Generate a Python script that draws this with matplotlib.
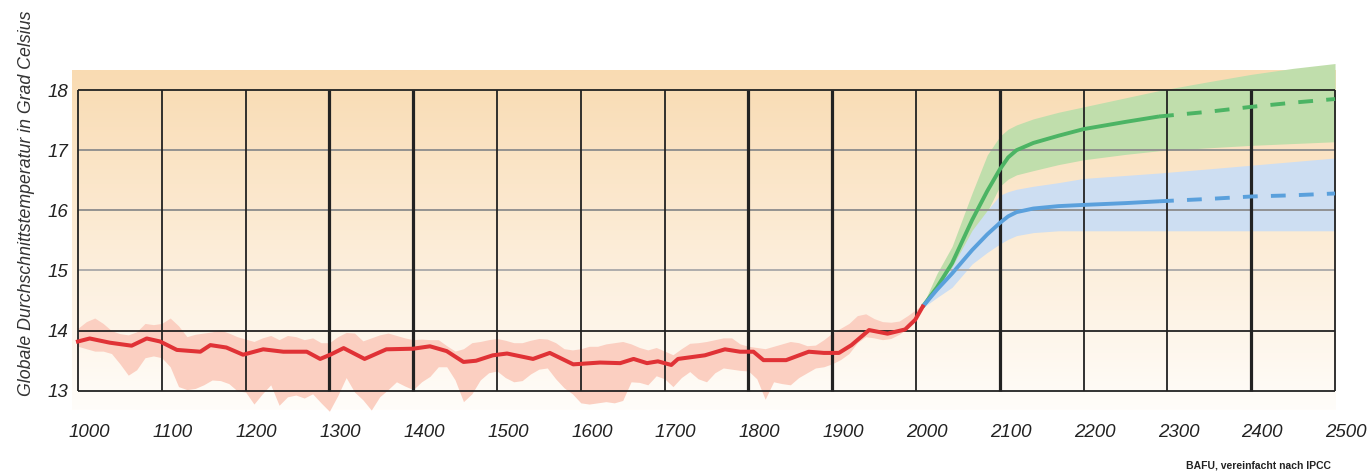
import matplotlib.pyplot as plt
import numpy as np
from matplotlib import font_manager
from matplotlib.transforms import ScaledTranslation

# the reference uses a narrow italic sans; take the first family that has an italic face
_fonts = font_manager.fontManager.ttflist
_italic = {f.name for f in _fonts if f.style in ("italic", "oblique")}
_cands = ["Liberation Sans Narrow", "Liberation Sans", "Roboto", "Lato", "Open Sans", "Noto Sans"]
FONT_NAME = next((n for n in _cands if n in _italic), "DejaVu Sans")
FONT = [FONT_NAME, "DejaVu Sans"]
if FONT_NAME == "Liberation Sans Narrow":
    XT_SIZE, YT_SIZE, YL_SIZE, SRC_SIZE = 16, 15, 14, 9
elif FONT_NAME == "DejaVu Sans":
    XT_SIZE, YT_SIZE, YL_SIZE, SRC_SIZE = 12.5, 12.5, 11, 7
else:
    XT_SIZE, YT_SIZE, YL_SIZE, SRC_SIZE = 13.5, 13.5, 12.8, 7.5

# reconstructed global mean temperature, 1000-2008 (smoothed line)
hist_years = [1000, 1014, 1038, 1064, 1082, 1098, 1118, 1146, 1158, 1177, 1197, 1221,
              1245, 1273, 1289, 1301, 1317, 1342, 1368, 1400, 1420, 1440, 1460, 1475,
              1495, 1512, 1543, 1563, 1591, 1623, 1647, 1663, 1679, 1692, 1708, 1716,
              1748, 1772, 1790, 1806, 1818, 1845, 1872, 1890, 1908, 1923, 1944, 1966,
              1987, 1999, 2008]
hist_temp = [13.82, 13.87, 13.80, 13.75, 13.87, 13.82, 13.68, 13.65, 13.76, 13.72, 13.60, 13.69,
             13.65, 13.65, 13.53, 13.60, 13.71, 13.53, 13.69, 13.70, 13.74, 13.66, 13.48, 13.50,
             13.59, 13.62, 13.53, 13.63, 13.44, 13.47, 13.46, 13.53, 13.46, 13.49, 13.43, 13.53,
             13.59, 13.69, 13.65, 13.65, 13.51, 13.51, 13.65, 13.63, 13.63, 13.76, 14.01, 13.95,
             14.02, 14.18, 14.40]

# uncertainty band of the reconstruction
band_years = list(range(1000, 2001, 10)) + [2008]
band_upper = [14.04, 14.15, 14.21, 14.12, 14.00, 13.95, 13.93, 13.98, 14.12, 14.10,
              14.12, 14.21, 14.08, 13.90, 13.94, 13.96, 13.98, 14.01, 13.96, 13.90,
              13.86, 13.82, 13.88, 13.92, 13.85, 13.92, 13.90, 13.85, 13.88, 13.80,
              13.80, 13.90, 13.97, 13.96, 13.83, 13.88, 13.93, 13.96, 13.92, 13.88,
              13.85, 13.86, 13.85, 13.85, 13.75, 13.66, 13.70, 13.80, 13.82, 13.85,
              13.87, 13.84, 13.80, 13.80, 13.84, 13.87, 13.86, 13.80, 13.70, 13.68,
              13.70, 13.74, 13.74, 13.78, 13.80, 13.82, 13.78, 13.72, 13.68, 13.72,
              13.66, 13.60, 13.70, 13.79, 13.80, 13.82, 13.85, 13.88, 13.88, 13.78,
              13.74, 13.72, 13.70, 13.74, 13.78, 13.82, 13.80, 13.75, 13.76, 13.85,
              13.96, 14.04, 14.12, 14.25, 14.28, 14.20, 14.15, 14.14, 14.16, 14.25,
              14.35, 14.44]
band_lower = [13.74, 13.70, 13.66, 13.66, 13.62, 13.45, 13.26, 13.35, 13.55, 13.58,
              13.55, 13.40, 13.07, 13.02, 13.04, 13.10, 13.18, 13.17, 13.12, 13.00,
              12.98, 12.78, 12.95, 13.10, 12.76, 12.90, 12.93, 12.88, 12.95, 12.80,
              12.66, 12.92, 13.22, 12.98, 12.85, 12.68, 12.90, 13.02, 13.15, 13.08,
              13.02, 13.15, 13.24, 13.40, 13.40, 13.18, 12.82, 12.95, 13.18, 13.30,
              13.33, 13.22, 13.15, 13.17, 13.28, 13.36, 13.38, 13.20, 13.05, 12.95,
              12.80, 12.78, 12.80, 12.82, 12.80, 12.84, 13.15, 13.14, 13.10, 13.25,
              13.20, 13.07, 13.22, 13.32, 13.20, 13.15, 13.30, 13.38, 13.36, 13.34,
              13.33, 13.20, 12.86, 13.15, 13.12, 13.10, 13.22, 13.30, 13.38, 13.40,
              13.45, 13.52, 13.62, 13.80, 13.90, 13.88, 13.85, 13.87, 13.94, 14.04,
              14.22, 14.36]

# IPCC projections 2008-2500 (solid up to SOLID_END, dashed after)
proj_years = [2008, 2025, 2043, 2067, 2085, 2100, 2110, 2120, 2140, 2170, 2200, 2250, 2290,
              2350, 2400, 2450, 2500]
green_mid = [14.40, 14.72, 15.12, 15.84, 16.32, 16.68, 16.88, 17.00, 17.12, 17.24, 17.35, 17.47,
             17.56, 17.64, 17.72, 17.79, 17.85]
green_upper = [14.42, 14.95, 15.40, 16.29, 16.92, 17.23, 17.35, 17.42, 17.52, 17.63, 17.72, 17.87,
               17.99, 18.14, 18.26, 18.36, 18.44]
green_lower = [14.38, 14.60, 14.90, 15.46, 15.98, 16.40, 16.52, 16.59, 16.66, 16.76, 16.84, 16.93,
               16.99, 17.04, 17.08, 17.11, 17.14]
blue_mid = [14.40, 14.68, 14.95, 15.34, 15.60, 15.79, 15.90, 15.97, 16.03, 16.07, 16.09, 16.12,
            16.15, 16.19, 16.23, 16.25, 16.28]
blue_upper = [14.42, 14.75, 15.06, 15.67, 16.00, 16.25, 16.31, 16.35, 16.40, 16.46, 16.53, 16.58,
              16.62, 16.69, 16.75, 16.81, 16.87]
blue_lower = [14.38, 14.55, 14.72, 15.11, 15.30, 15.44, 15.52, 15.58, 15.63, 15.66, 15.66, 15.66,
              15.66, 15.66, 15.66, 15.66, 15.66]
SOLID_END = 2290

x_ticks = list(range(1000, 2501, 100))
y_ticks = [13, 14, 15, 16, 17, 18]
thick_years = [1300, 1400, 1800, 1900, 2100, 2400]
h_colors = {13: "#222222", 14: "#222222", 15: "#a8a8a8", 16: "#8c8c8c", 17: "#8c8c8c", 18: "#222222"}

fig = plt.figure(figsize=(13.7, 4.72), dpi=100)
ax = fig.add_axes([0.04774, 0.10826, 0.93591, 0.77754])

# orange-to-white background
grad = np.linspace(0, 1, 256)[:, None]
top = np.array([249, 219, 178]) / 255
bot = np.array([255, 253, 250]) / 255
img = top[None, None, :] * (1 - grad[:, :, None]) + bot[None, None, :] * grad[:, :, None]
ax.imshow(img, extent=[992.5, 2500, 12.68, 18.32], aspect="auto", origin="upper",
          zorder=0, interpolation="bilinear")

# bands
ax.fill_between(band_years, band_lower, band_upper, color="#fbcfc1", lw=0, zorder=1)
ax.fill_between(proj_years, green_lower, green_upper, color="#c0deac", lw=0, zorder=1)
ax.fill_between(proj_years, blue_lower, blue_upper, color="#cddef2", lw=0, zorder=1.1)

# grid
for yv in y_ticks:
    ax.hlines(yv, 1000, 2500, color=h_colors[yv], lw=1.3, zorder=2)
for xv in x_ticks:
    ax.vlines(xv, 13, 18, color="#222222", lw=2.3 if xv in thick_years else 1.3, zorder=2)

# lines
py = np.array(proj_years)
solid = py <= SOLID_END
dashed = py >= SOLID_END
for mid, col in ((green_mid, "#4cb464"), (blue_mid, "#5aa0dc")):
    m = np.array(mid)
    ax.plot(py[solid], m[solid], color=col, lw=2.8, solid_capstyle="butt", zorder=3)
    ax.plot(py[dashed], m[dashed], color=col, lw=2.8, dashes=(3.8, 3.4),
            dash_capstyle="butt", zorder=3)
ax.plot(hist_years, hist_temp, color="#e03236", lw=2.9, solid_joinstyle="round", zorder=4)

ax.set_xlim(985, 2515)
ax.set_ylim(12.5, 18.6)
for s in ax.spines.values():
    s.set_visible(False)

ax.set_xticks(x_ticks)
ax.set_xticklabels([str(v) for v in x_ticks], family=FONT, style="italic", fontsize=XT_SIZE,
                   color="#222222")
ax.set_yticks(y_ticks)
ax.set_yticklabels([str(v) for v in y_ticks], family=FONT, style="italic", fontsize=YT_SIZE,
                   color="#222222")
ax.tick_params(length=0)
ax.tick_params(axis="x", pad=2)
ax.tick_params(axis="y", pad=0)
for lab in ax.get_xticklabels():
    lab.set_transform(lab.get_transform() + ScaledTranslation(0.11, 0, fig.dpi_scale_trans))
for lab in ax.get_yticklabels():
    lab.set_transform(lab.get_transform() + ScaledTranslation(0.03, 0, fig.dpi_scale_trans))

fig.text(0.019, 0.569, "Globale Durchschnittstemperatur in Grad Celsius", rotation=90,
         ha="center", va="center", family=FONT, style="italic", fontsize=YL_SIZE, color="#333333")
fig.text(1331 / 1370, 1 - 466 / 472, "BAFU, vereinfacht nach IPCC", ha="right", va="center",
         family=FONT, fontweight="bold", fontsize=SRC_SIZE, color="#222222")

fig.savefig("out.png", dpi=100, facecolor="white")
